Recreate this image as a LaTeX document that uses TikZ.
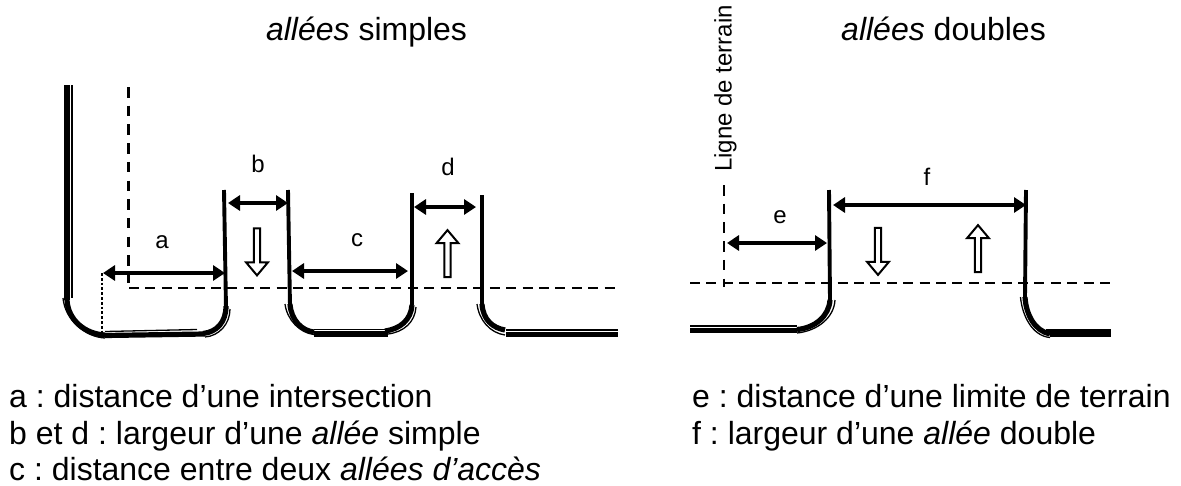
\documentclass[tikz,border=0pt]{standalone}
\usepackage{fontspec}
\setmainfont{Liberation Sans}
\usetikzlibrary{arrows.meta,shapes.arrows}
\frenchspacing
\tikzset{
    wall/.style={line width=3.9pt},
    road/.style={line width=5.2pt},
    edge/.style={line width=1.3pt},
    limit/.style={line width=2.7pt,dash pattern=on 10pt off 6.4pt},
    limitv/.style={line width=2.7pt,dash pattern=on 10.5pt off 8.2pt},
    dim/.style={line width=3.4pt,{Triangle[length=12pt,width=15pt]}-{Triangle[length=12pt,width=15pt]}},
    lbl/.style={font=\fontsize{24}{28}\selectfont,inner sep=0pt,anchor=base},
    title/.style={font=\fontsize{32}{38}\selectfont,inner sep=0pt,anchor=base},
    legend/.style={font=\fontsize{32}{38}\selectfont,inner sep=0pt,anchor=base west},
    flow/.style={draw,line width=2pt,fill=white,single arrow,inner sep=0pt,minimum height=47pt,minimum width=22pt,single arrow head extend=2.5pt,single arrow tip angle=80},
}
\begin{document}
\begin{tikzpicture}[x=1pt,y=-1pt]
    \useasboundingbox (0,0) rectangle (1181,485);
    % titles
    \node[title] (titleL) at (366.5,40) {\textit{allées} simples};
    \node[title] (titleR) at (943.5,40) {\textit{allées} doubles};
    \node[lbl,anchor=base west,rotate=90] (ligne) at (731.5,172) {Ligne de terrain};
    % limits
    \draw[limitv] (128.5,87) -- (128.5,283);
    \draw[limit] (129,288) -- (617,288);
    \draw[limitv] (724,185) -- (724,287);
    \draw[limit] (690,283) -- (1111,283);
    \draw[line width=2.8pt,dotted] (102,273) -- (102,333);
    % left part
    \draw[road] (67,85) -- (67,300);
    \draw[road] (67,300) .. controls (68,320) and (85,334) .. (105,335);
    \draw[edge] (72,85) -- (72,298);
    \draw[edge] (63,298) .. controls (65,320) and (85,337) .. (105,338);
    \draw[road] (105,335.5) -- (205,334);
    \draw[edge] (105,331.5) -- (197,329.5);
    \draw[wall] (224,190) -- (226,308);
    \draw[road] (226,306) .. controls (226,322) and (217,332) .. (203,333.5);
    \draw[edge] (205,337) .. controls (219,336) and (230,324) .. (230,309);
    \draw[wall] (288,190) -- (290,306);
    \draw[road] (290,304) .. controls (291,320) and (302,331) .. (314,332);
    \draw[edge] (285,304) .. controls (287,320) and (300,333) .. (314,334.5);
    \draw[road] (314,334) -- (388,334);
    \draw[edge] (314,329.5) -- (385,329.5);
    \draw[wall] (412,193) -- (412,305);
    \draw[road] (412,305) .. controls (411,320) and (400,329) .. (385,331);
    \draw[edge] (388,334) .. controls (404,332) and (415,322) .. (416,307);
    \draw[wall] (482,195) -- (482,304);
    \draw[road] (482,304) .. controls (483,320) and (493,328) .. (505,330);
    \draw[edge] (477,304) .. controls (479,320) and (490,333) .. (505,335);
    \draw[road] (506,334.5) -- (618,334.5);
    \draw[edge] (506,330) -- (618,330);
    % right part
    \draw[road] (690,330.5) -- (797,330.5);
    \draw[edge] (690,326) -- (797,326);
    \draw[wall] (829,190) -- (830,300);
    \draw[road] (830,300) .. controls (829,316) and (815,328) .. (797,329.5);
    \draw[edge] (797,333) .. controls (817,331) and (834,318) .. (835,300);
    \draw[wall] (1026,190) -- (1025,297);
    \draw[road] (1025,297) .. controls (1026,315) and (1035,331) .. (1050,334);
    \draw[edge] (1020.5,297) .. controls (1022,315) and (1032,336) .. (1050,337.5);
    \draw[road] (1050,334) -- (1111,334);
    \draw[edge] (1046,330) -- (1111,330);
    % dimensions
    \coordinate (a1) at (103,273); \coordinate (a2) at (225,273);
    \coordinate (b1) at (228,203); \coordinate (b2) at (288,203);
    \coordinate (c1) at (292,271); \coordinate (c2) at (408,271);
    \coordinate (d1) at (414,207); \coordinate (d2) at (476,207);
    \coordinate (e1) at (727,243); \coordinate (e2) at (827,243);
    \coordinate (f1) at (833,205); \coordinate (f2) at (1026,205);
    \foreach \p in {a,b,c,d,e,f}
        \draw[dim] (\p1) -- (\p2);
    \node[lbl] (a) at (162,248) {a};
    \node[lbl] (b) at (258,172) {b};
    \node[lbl] (c) at (357,246) {c};
    \node[lbl] (d) at (448,175) {d};
    \node[lbl] (e) at (780,223) {e};
    \node[lbl] (f) at (927,185) {f};
    % traffic
    \node[flow,shape border rotate=270] (sensB) at (257,250) {};
    \node[flow,shape border rotate=90] (sensD) at (447.5,255.5) {};
    \node[flow,shape border rotate=270] (sensF1) at (878,249.5) {};
    \node[flow,shape border rotate=90] (sensF2) at (978,250.5) {};
    % legend
    \node[legend] (la) at (9,407) {a : distance d’une intersection};
    \node[legend] (lb) at (9,444) {b et d : largeur d’une \textit{allée} simple};
    \node[legend] (lc) at (9,480.5) {c : distance entre deux \textit{allées d’accès}};
    \node[legend] (le) at (692,407) {e : distance d’une limite de terrain};
    \node[legend] (lf) at (692,444) {f : largeur d’une \textit{allée} double};
\end{tikzpicture}
\end{document}
